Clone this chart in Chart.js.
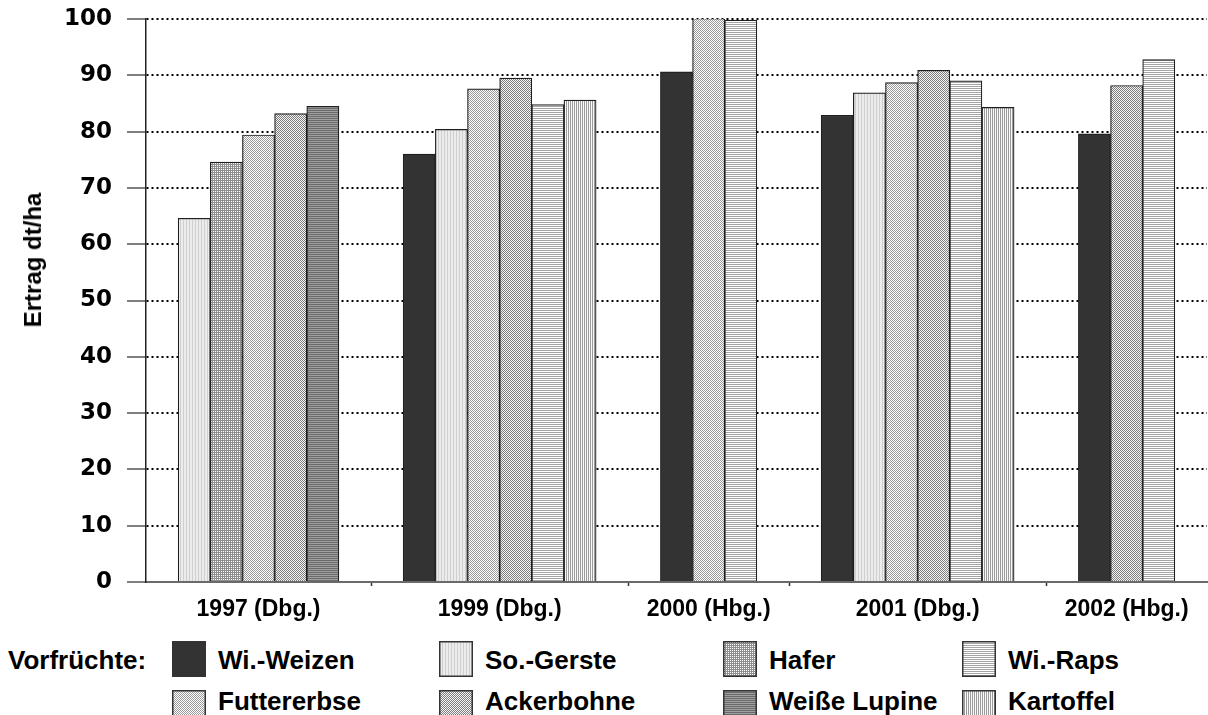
<!DOCTYPE html>
<html lang="de">
<head>
<meta charset="utf-8">
<title>Ertrag nach Vorfrucht</title>
<script src="https://cdn.jsdelivr.net/npm/chart.js@4.4.1/dist/chart.umd.min.js"></script>
<style>
  body { margin: 0; width: 1208px; height: 715px; overflow: hidden; position: relative; background: #fff; }
  #diagramm { position: absolute; left: 0; top: 0; width: 1208px; height: 640px; }
  .text { position: absolute; white-space: nowrap; font: bold 26px "Liberation Sans", Arial, sans-serif; line-height: 26px; color: #000; }
  .ytitel { position: absolute; left: 33px; top: 260px; transform: translate(-50%, -50%) rotate(-90deg);
            white-space: nowrap; font: bold 24px "Liberation Sans", Arial, sans-serif; color: #000; }
  .feld { position: absolute; }
</style>
</head>
<body>
<div id="diagramm"><canvas id="ertragChart"></canvas></div>
<div class="ytitel">Ertrag dt/ha</div>
<div id="legende"></div>

<script>
// ===============================
// DATEN (dt/ha)
// ===============================
const gruppen = ["1997 (Dbg.)", "1999 (Dbg.)", "2000 (Hbg.)", "2001 (Dbg.)", "2002 (Hbg.)"];

// Reihenfolge der Balken innerhalb einer Gruppe
const vorfruechte = ["Wi.-Weizen", "So.-Gerste", "Hafer", "Futtererbse", "Ackerbohne", "Weiße Lupine", "Wi.-Raps", "Kartoffel"];

const weizen      = [null, 76.0, 90.6, 82.9, 79.6];
const gerste      = [64.6, 80.4, null, 86.9, null];
const hafer       = [74.6, null, null, null, null];
const futtererbse = [79.4, 87.6, 100.1, 88.7, null];
const ackerbohne  = [83.2, 89.5, null, 90.9, 88.2];
const lupine      = [84.5, null, null, null, null];
const raps        = [null, 84.8, 99.8, 89.0, 92.8];
const kartoffel   = [null, 85.6, null, 84.3, null];

const werte = [weizen, gerste, hafer, futtererbse, ackerbohne, lupine, raps, kartoffel];

// Legende: zeilenweise, 4 Spalten
const legendeReihenfolge = ["Wi.-Weizen", "So.-Gerste", "Hafer", "Wi.-Raps", "Futtererbse", "Ackerbohne", "Weiße Lupine", "Kartoffel"];

const yTicks = [0, 10, 20, 30, 40, 50, 60, 70, 80, 90, 100];

// ===============================
// MUSTER (Schraffuren)
// ===============================
function kachel(zeilen, farben) {
  const c = document.createElement("canvas");
  c.width = zeilen[0].length;
  c.height = zeilen.length;
  const g = c.getContext("2d");
  zeilen.forEach((z, y) => {
    [...z].forEach((ch, x) => {
      g.fillStyle = farben[ch];
      g.fillRect(x, y, 1, 1);
    });
  });
  return c;
}

const kacheln = {
  "Wi.-Weizen":   kachel(["a"], { a: "#333333" }),
  "So.-Gerste":   kachel(["abb"], { a: "#cfcfcf", b: "#ececec" }),
  "Hafer":        kachel(["aa", "ab"], { a: "#8f8f8f", b: "#ffffff" }),
  "Futtererbse":  kachel(["ab", "ba"], { a: "#9a9a9a", b: "#ffffff" }),
  "Ackerbohne":   kachel(["ab", "ba"], { a: "#7e7e7e", b: "#f4f4f4" }),
  "Weiße Lupine": kachel(["a", "b"], { a: "#6a6a6a", b: "#a0a0a0" }),
  "Wi.-Raps":     kachel(["a", "b"], { a: "#a4a4a4", b: "#ffffff" }),
  "Kartoffel":    kachel(["ab"], { a: "#9a9a9a", b: "#fafafa" }),
};

const ctx = document.getElementById("ertragChart").getContext("2d");
const muster = {};
Object.keys(kacheln).forEach((k) => {
  muster[k] = ctx.createPattern(kacheln[k], "repeat");
});

// ===============================
// ANORDNUNG DER BALKEN
// ===============================
// Einheit = eine Balkenbreite; zwischen den Jahren zwei Einheiten Abstand
const balken = vorfruechte.map(() => []);
const labelTicks = new Map();
const grenzTicks = [];
let start = 1;
gruppen.forEach((gruppe, gi) => {
  let pos = start;
  werte.forEach((reihe, si) => {
    if (reihe[gi] !== null) {
      balken[si].push({ x: pos + 0.5, y: reihe[gi] });
      pos++;
    }
  });
  labelTicks.set((start + pos) / 2, gruppe);
  grenzTicks.push(pos + 1);
  start = pos + 2;
});
grenzTicks.pop();
const xMax = start - 1;
const xTicks = [...labelTicks.keys(), ...grenzTicks].sort((a, b) => a - b);

const istGrenze = (c) => !!(c.tick && grenzTicks.includes(c.tick.value));
const istNull = (c) => !!(c.tick && c.tick.value === 0);

// ===============================
// DIAGRAMM
// ===============================
// kleine lineHeight: hält den oberen Rand der Zeichenfläche knapp
const achsenFont = { family: "'DejaVu Sans', Verdana, sans-serif", size: 23, weight: "bold", lineHeight: 0.35 };
const labelFont = { family: "'Liberation Sans', Arial, sans-serif", size: 23, weight: "bold" };

new Chart(ctx, {
  type: "bar",
  data: {
    datasets: vorfruechte.map((name, i) => ({
      label: name,
      data: balken[i],
      stack: "alle",
      backgroundColor: muster[name],
      borderColor: "#1e1e1e",
      borderWidth: 1.2,
      categoryPercentage: 1,
      barPercentage: 1,
    })),
  },
  options: {
    responsive: true,
    maintainAspectRatio: false,
    animation: false,
    layout: { padding: { top: 0, right: 1, left: 0, bottom: 0 } },
    plugins: { legend: { display: false }, tooltip: { enabled: false } },
    scales: {
      x: {
        type: "linear",
        stacked: true,
        offset: false,
        min: 0,
        max: xMax,
        afterBuildTicks: (s) => { s.ticks = xTicks.map((v) => ({ value: v })); },
        afterFit: (s) => { s.height = 58; },
        ticks: {
          autoSkip: false,
          maxRotation: 0,
          padding: 10,
          color: "#000",
          font: labelFont,
          callback: (v) => labelTicks.get(v) || "",
        },
        grid: {
          offset: false,
          drawOnChartArea: false,
          tickLength: 4,
          tickWidth: 1.5,
          tickColor: (c) => (istGrenze(c) ? "#333" : "rgba(0,0,0,0)"),
        },
        border: { color: "#6a6a6a", width: 2 },
      },
      y: {
        stacked: false,
        min: yTicks[0],
        max: yTicks[yTicks.length - 1],
        afterBuildTicks: (s) => { s.ticks = yTicks.map((v) => ({ value: v })); },
        afterFit: (s) => { s.width = 146; },
        ticks: { padding: 15, color: "#000", font: achsenFont },
        grid: {
          color: (c) => (istNull(c) ? "rgba(0,0,0,0)" : "#000"),
          lineWidth: 2,
          tickLength: 19,
          tickWidth: 1.5,
          tickColor: "#555",
        },
        border: { color: "#222", width: 1.5, dash: [2, 3] },
      },
    },
  },
});

// ===============================
// LEGENDE
// ===============================
const legende = document.getElementById("legende");
const spaltenX = [172, 439, 723, 962];
const zeilenY = [641, 690];
const textY = [647, 688];

const titel = document.createElement("div");
titel.className = "text";
titel.style.left = "8px";
titel.style.top = "647px";
titel.textContent = "Vorfrüchte:";
legende.appendChild(titel);

legendeReihenfolge.forEach((name, i) => {
  const spalte = i % 4;
  const zeile = Math.floor(i / 4);
  const x = spaltenX[spalte];
  const y = zeilenY[zeile];

  const feld = document.createElement("canvas");
  feld.className = "feld";
  feld.width = 34;
  feld.height = 36;
  feld.style.left = x + "px";
  feld.style.top = y + "px";
  const g = feld.getContext("2d");
  g.fillStyle = g.createPattern(kacheln[name], "repeat");
  g.fillRect(0, 0, 34, 36);
  g.strokeStyle = "#333";
  g.lineWidth = 1.5;
  g.strokeRect(0.75, 0.75, 32.5, 34.5);
  legende.appendChild(feld);

  const text = document.createElement("div");
  text.className = "text";
  text.style.left = x + 46 + "px";
  text.style.top = textY[zeile] + "px";
  text.textContent = name;
  legende.appendChild(text);
});
</script>
</body>
</html>
